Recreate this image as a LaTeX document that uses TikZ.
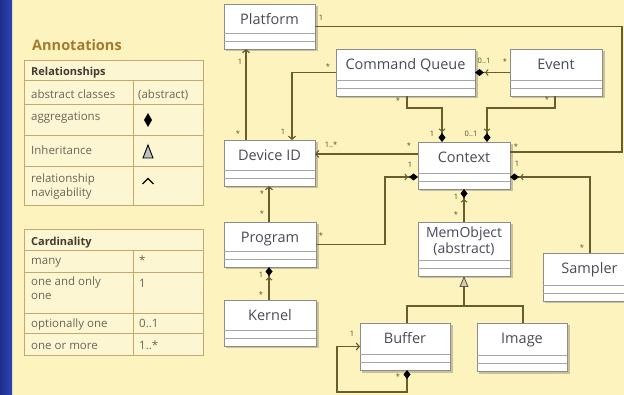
\documentclass[tikz,border=0pt]{standalone}
\usepackage{fontspec}
\setmainfont{Open Sans}
\usetikzlibrary{arrows.meta}
\definecolor{bgc}{HTML}{FCF3BF}
\definecolor{lnc}{HTML}{6A5C2E}
\definecolor{tblb}{HTML}{C9A66A}
\definecolor{tblf}{HTML}{FDF6D3}
\definecolor{tbltxt}{HTML}{6E6355}
\definecolor{tblhd}{HTML}{443A30}
\definecolor{ttl}{HTML}{4A4A58}
\definecolor{ann}{HTML}{A67A2C}
\definecolor{bluA}{HTML}{1E2C8E}
\definecolor{bluB}{HTML}{2E46B4}
\newcommand\umlbox[6]{%
  \fill[black,opacity=.2] (#2+2,#3+2) rectangle (#4+2.5,#5+2.5);
  \node[cbox,minimum width={(#4-#2)*1pt},minimum height={(#5-#3)*1pt}] (#1) at ({(#2+#4)/2},{(#3+#5)/2}) {};
  \draw[csep] (#2,#5-16) -- (#4,#5-16) (#2,#5-8) -- (#4,#5-8);
  \node[ctitle] (#1-t) at ({(#2+#4)/2},#3+21) {#6};
}
\newcommand\lab[4]{\node[lbl] (#1) at (#2,#3) {#4};}
\newcommand\ttext[4]{\node[ttxt] (#1) at (#2,#3) {#4};}
\begin{document}
\begin{tikzpicture}[x=1pt,y=-1pt,
  cbox/.style={draw=black!45,fill=white,inner sep=0pt,outer sep=0pt,line width=0.6pt},
  csep/.style={draw=black!35,line width=0.5pt},
  ctitle/.style={anchor=base,inner sep=0pt,text=ttl,font=\fontsize{14.5}{16}\selectfont},
  conn/.style={draw=lnc,line width=1.7pt},
  lbl/.style={inner sep=0pt,text=lnc!80!black,font=\fontsize{7.5}{8}\selectfont},
  ttxt/.style={anchor=base west,inner sep=0pt,text=tbltxt,font=\fontsize{11.5}{14}\selectfont},
  thd/.style={anchor=base west,inner sep=0pt,text=tblhd,font=\bfseries\fontsize{11}{13}\selectfont},
  tbl/.style={draw=tblb,line width=0.8pt},
  agg/.style={-{Straight Barb[length=2.5pt,width=6pt,line width=1pt,sep=1pt]Diamond[length=9pt,width=7pt,black]}},
  navi/.style={-{Straight Barb[length=3pt,width=7pt,line width=1.2pt]}},
  inh/.style={-{Triangle[length=11pt,width=9pt,fill=black!20,line width=0.9pt]}}
]
\useasboundingbox (0,0) rectangle (624,395);
\clip (0,0) rectangle (624,395);
\fill[bgc] (0,0) rectangle (624,395);
\shade[left color=bluA,right color=bluB] (0,0) rectangle (12,395);

% Annotations
\node[anchor=base west,inner sep=0pt,text=ann,font=\bfseries\fontsize{14.5}{16}\selectfont] (annot) at (32,51) {Annotations};
\fill[tblf] (24,60) rectangle (203,205);
\draw[tbl] (24,60) rectangle (203,205);
\draw[tbl] (24,80) -- (203,80) (24,104) -- (203,104) (24,135) -- (203,135) (24,166) -- (203,166) (133,80) -- (133,205);
\node[thd] (relh) at (31,76) {Relationships};
\ttext{r1}{31}{99}{abstract classes}
\ttext{r1b}{138}{99}{(abstract)}
\ttext{r2}{31}{121}{aggregations}
\ttext{r3}{31}{155}{Inheritance}
\node[ttxt,align=left,anchor=north west] (r4) at (31,174) {relationship\\navigability};
\fill[black] (148,113) -- (152,120) -- (148,127) -- (144,120) -- cycle;
\filldraw[fill=black!25,draw=black,line width=0.9pt] (148,145) -- (153,158) -- (143,158) -- cycle;
\draw[black,line width=1.3pt] (142.5,184) -- (148,178.5) -- (153.5,184);

\fill[tblf] (24,229) rectangle (203,355);
\draw[tbl] (24,229) rectangle (203,355);
\draw[tbl] (24,250) -- (203,250) (24,272) -- (203,272) (24,313) -- (203,313) (24,333) -- (203,333) (133,250) -- (133,355);
\node[thd] (cardh) at (31,246) {Cardinality};
\ttext{c1}{31}{265}{many}
\ttext{c1b}{139}{265}{*}
\node[ttxt,align=left,anchor=north west] (c2) at (31,277) {one and only\\one};
\ttext{c2b}{139}{288}{1}
\ttext{c3}{31}{327}{optionally one}
\ttext{c3b}{139}{327}{0..1}
\ttext{c4}{31}{349}{one or more}
\ttext{c4b}{139}{349}{1..*}

% classes
\umlbox{plat}{224}{4}{315}{49}{Platform}
\umlbox{cq}{336}{49}{475}{96}{Command Queue}
\umlbox{event}{510}{49}{602}{96}{Event}
\umlbox{dev}{224}{140}{315}{186}{Device ID}
\umlbox{ctx}{418}{142}{510}{189}{Context}
\umlbox{prog}{224}{222}{316}{267}{Program}
\umlbox{kern}{224}{300}{316}{346}{Kernel}
\umlbox{mem}{418}{222}{510}{276}{}
\node[ctitle,anchor=center,align=center,font=\fontsize{14}{16}\selectfont] (memt) at (464,241) {MemObject\\(abstract)};
\umlbox{samp}{543}{253}{636}{301}{Sampler}
\umlbox{buf}{360}{323}{450}{370}{Buffer}
\umlbox{img}{477}{323}{567}{371}{Image}

% connectors
\draw[conn] (plat.east) -| (622,152) -- (ctx.east |- 0,152);
\draw[conn,navi] ([xshift=22pt]dev.north west) -- ([xshift=22pt]plat.south west);
\draw[conn,navi] (cq.west) -| ([xshift=68pt]dev.north west);
\draw[conn,agg] (event.west) -- (cq.east);
\draw[conn,agg] ([xshift=71pt]cq.south west) -- ++(0,12) -| ([xshift=24pt]ctx.north west);
\draw[conn,agg] ([xshift=45pt]event.south west) -- ++(0,12) -| ([xshift=69pt]ctx.north west);
\draw[conn,navi] ([yshift=-12pt]ctx.north west) -- ([yshift=-14pt]dev.north east);
\draw[conn,agg] (prog.east) -- ++(69,0) |- ([yshift=-35pt]ctx.north west);
\draw[conn,navi] ([xshift=45pt]prog.north west) -- ([xshift=45pt]dev.south west);
\draw[conn,agg] ([xshift=45pt]kern.north west) -- ([xshift=45pt]prog.south west);
\draw[conn,agg] (mem.north) -- (ctx.south);
\draw[conn,agg] ([xshift=47pt]samp.north west) |- ([yshift=-35pt]ctx.north east);
\coordinate (junc) at (464,306);
\draw[conn,inh] ([xshift=47pt]buf.north west) |- (junc) -- (mem.south);
\draw[conn] ([xshift=46pt]img.north west) |- (junc);
\draw[conn,{Diamond[length=9pt,width=7pt,black]}-{Straight Barb[length=3pt,width=7pt,line width=1.2pt]}] ([xshift=47pt]buf.south west) -- ++(0,22) -- ++(-70,0) |- (buf.west);

% multiplicity labels
\lab{m1}{321}{18}{1}
\lab{m2}{516}{147}{*}
\lab{m3}{240}{62}{1}
\lab{m4}{238}{134}{*}
\lab{m5}{328}{67}{*}
\lab{m6}{283}{132}{1}
\lab{m7}{484}{61}{0..1}
\lab{m8}{505}{62}{*}
\lab{m9}{398}{101}{*}
\lab{m10}{432}{134}{1}
\lab{m11}{547}{100}{*}
\lab{m12}{471}{134}{0..1}
\lab{m13}{331}{145}{1..*}
\lab{m14}{409}{146}{*}
\lab{m15}{321}{236}{*}
\lab{m16}{410}{165}{1}
\lab{m17}{262}{194}{*}
\lab{m18}{262}{214}{*}
\lab{m19}{261}{275}{1}
\lab{m20}{261}{295}{*}
\lab{m21}{456}{197}{1}
\lab{m22}{456}{215}{*}
\lab{m23}{517}{164}{1}
\lab{m24}{582}{248}{*}
\lab{m25}{352}{334}{1}
\lab{m26}{398}{377}{*}
\end{tikzpicture}
\end{document}
